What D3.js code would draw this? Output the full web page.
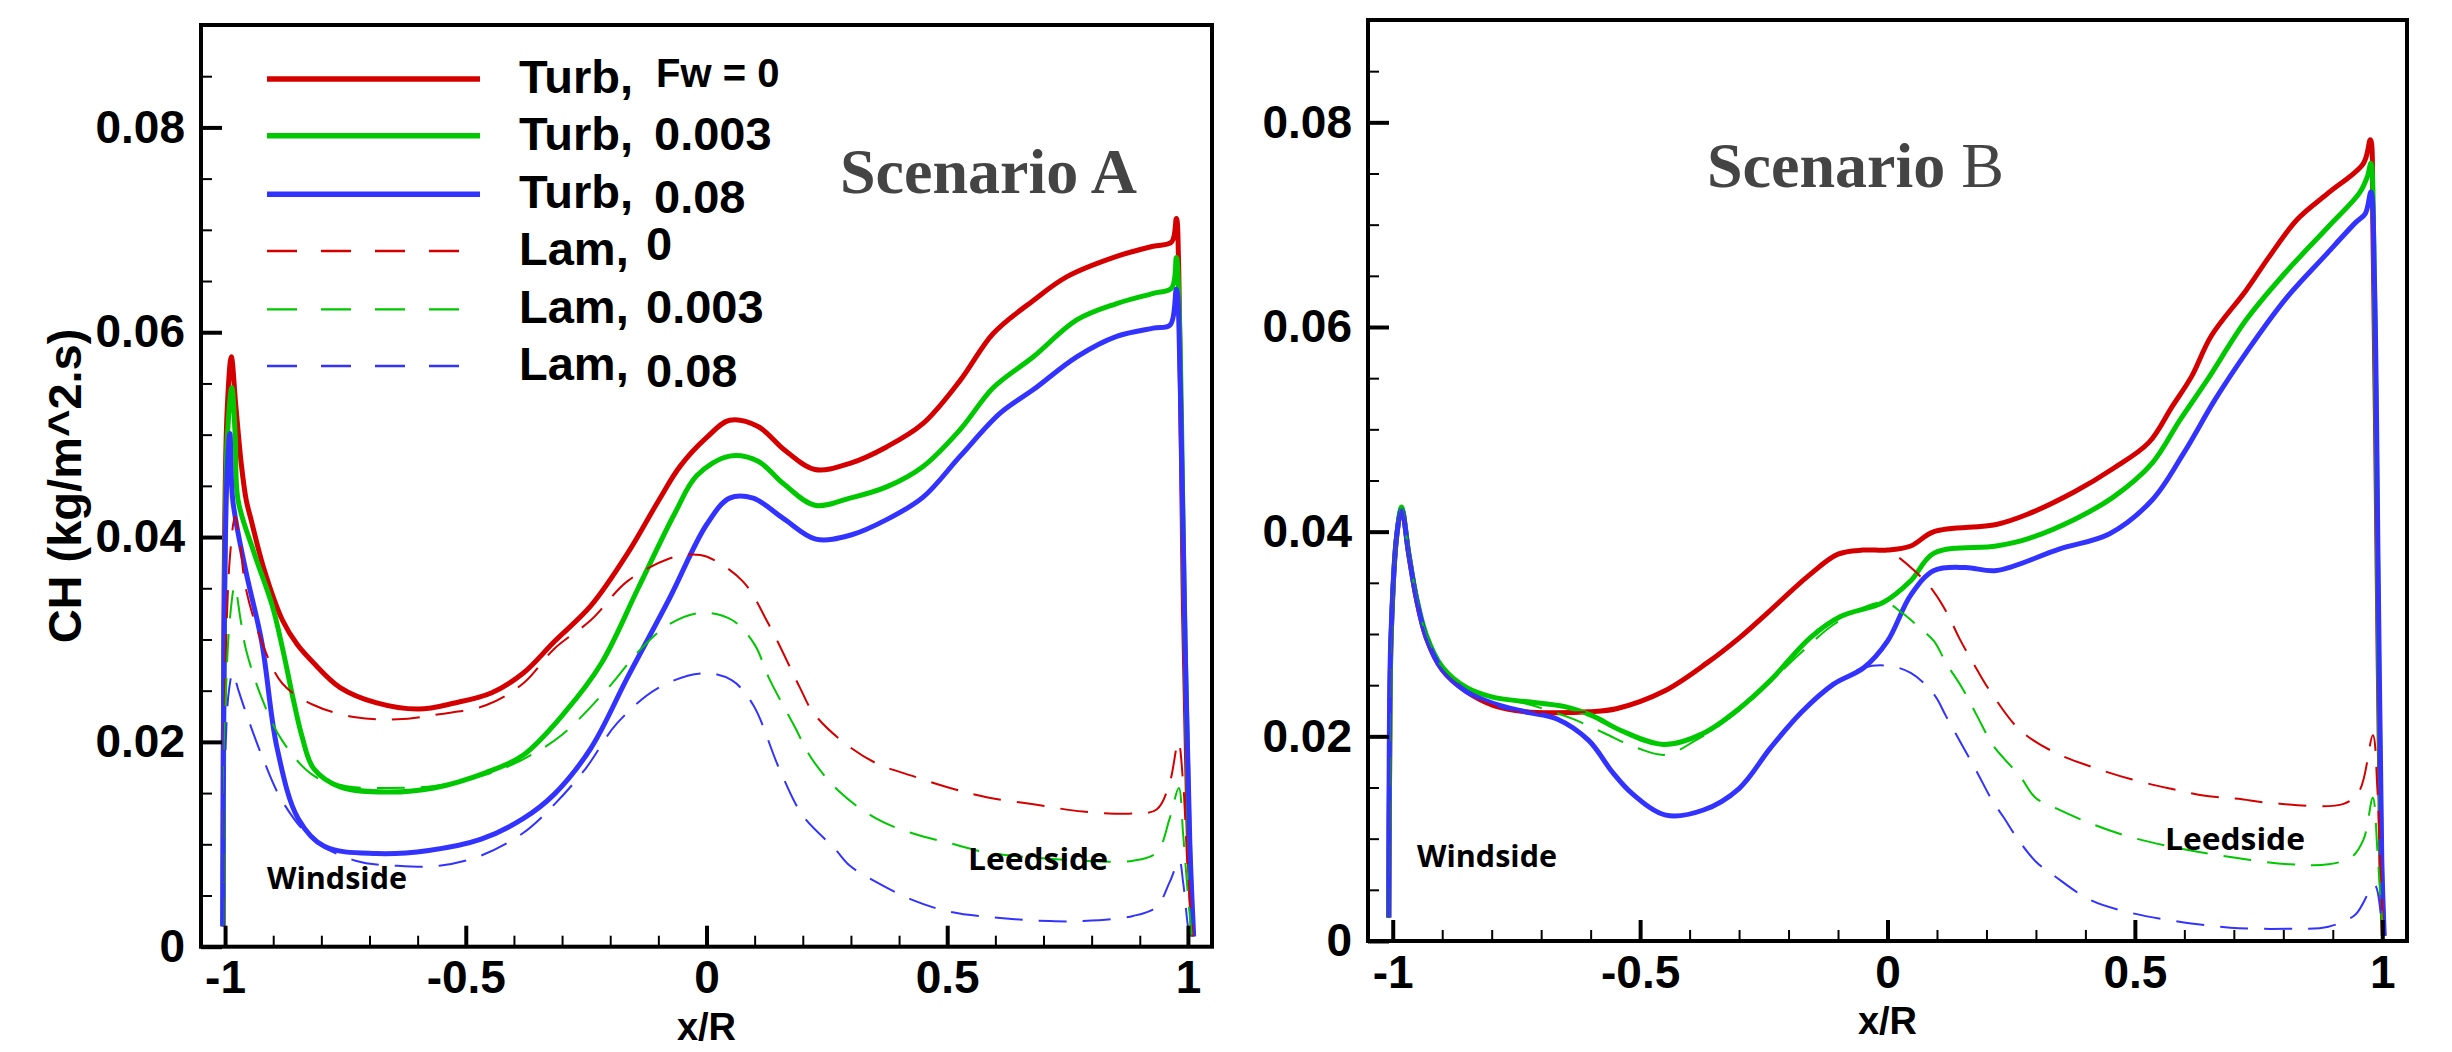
<!DOCTYPE html>
<html>
<head>
<meta charset="utf-8">
<script src="https://cdn.jsdelivr.net/npm/d3@7"></script>
<style>
  html, body { margin: 0; padding: 0; background: #fff; }
  svg { display: block; }
  .tick text { font-family: "Liberation Sans", Arial, sans-serif; font-weight: bold; font-size: 46px; fill: #000; }
</style>
</head>
<body>
<svg id="chart" width="2452" height="1052"></svg>
<script>
// ---- data: CH vs x/R ----

// Scenario A
var A_turb0 = [[-1.004,0.002],[-1.002,0.035],[-0.996,0.052],[-0.987,0.0576],[-0.978,0.053],[-0.966,0.047],[-0.956,0.0436],[-0.946,0.0417],[-0.92,0.037],[-0.881,0.0319],[-0.85,0.0295],[-0.816,0.0277],[-0.761,0.0253],[-0.685,0.0238],[-0.598,0.0232],[-0.523,0.0238],[-0.446,0.0248],[-0.381,0.0267],[-0.316,0.0298],[-0.24,0.0333],[-0.164,0.0384],[-0.099,0.0436],[-0.055,0.0469],[0.0,0.0497],[0.048,0.0514],[0.107,0.0508],[0.162,0.0485],[0.225,0.0466],[0.298,0.0472],[0.374,0.0488],[0.45,0.0511],[0.527,0.0553],[0.596,0.0599],[0.679,0.0631],[0.748,0.0654],[0.852,0.0674],[0.928,0.0684],[0.966,0.0688],[0.976,0.0711],[0.981,0.066],[0.99,0.035],[1.0,0.012],[1.01,0.001]];
var A_turb003 = [[-1.004,0.002],[-1.001,0.035],[-0.995,0.05],[-0.986,0.0546],[-0.979,0.05],[-0.973,0.0436],[-0.94,0.0385],[-0.902,0.0333],[-0.88,0.029],[-0.859,0.0243],[-0.84,0.0205],[-0.816,0.0174],[-0.761,0.0156],[-0.664,0.0151],[-0.566,0.0155],[-0.458,0.017],[-0.381,0.0187],[-0.294,0.0229],[-0.218,0.0277],[-0.142,0.035],[-0.066,0.0423],[-0.02,0.046],[0.048,0.0479],[0.107,0.0474],[0.16,0.0452],[0.225,0.0431],[0.298,0.0438],[0.374,0.0449],[0.45,0.0469],[0.527,0.0505],[0.596,0.0546],[0.679,0.0576],[0.769,0.0612],[0.852,0.0628],[0.928,0.0638],[0.966,0.0643],[0.976,0.0673],[0.982,0.062],[0.992,0.035],[1.002,0.012],[1.01,0.001]];
var A_turb008 = [[-1.005,0.002],[-1.002,0.03],[-0.996,0.046],[-0.99,0.0501],[-0.984,0.0436],[-0.957,0.0367],[-0.924,0.0298],[-0.892,0.0194],[-0.848,0.0125],[-0.794,0.0098],[-0.685,0.0091],[-0.577,0.0094],[-0.468,0.0105],[-0.381,0.0125],[-0.316,0.0149],[-0.24,0.0194],[-0.164,0.0263],[-0.077,0.034],[0.0,0.0412],[0.048,0.0438],[0.097,0.0438],[0.16,0.0418],[0.227,0.0398],[0.3,0.0402],[0.374,0.0417],[0.45,0.0439],[0.527,0.0479],[0.61,0.0521],[0.679,0.0544],[0.769,0.0576],[0.852,0.0596],[0.928,0.0604],[0.963,0.0607],[0.976,0.0642],[0.984,0.055],[0.994,0.03],[1.004,0.01],[1.012,0.001]];
var A_lam0 = [[-1.004,0.002],[-1.0,0.025],[-0.99,0.038],[-0.979,0.042],[-0.968,0.039],[-0.957,0.035],[-0.924,0.0298],[-0.881,0.0257],[-0.816,0.0236],[-0.729,0.0224],[-0.642,0.0222],[-0.555,0.0227],[-0.457,0.0236],[-0.381,0.0257],[-0.316,0.0291],[-0.24,0.0319],[-0.164,0.0357],[-0.077,0.0379],[-0.033,0.0383],[0.0,0.0381],[0.075,0.0357],[0.129,0.0315],[0.194,0.0253],[0.221,0.0229],[0.281,0.0201],[0.353,0.0179],[0.426,0.0167],[0.506,0.0155],[0.582,0.0146],[0.679,0.0139],[0.782,0.0132],[0.886,0.013],[0.935,0.0134],[0.962,0.016],[0.98,0.02],[0.99,0.016],[1.0,0.007],[1.01,0.001]];
var A_lam003 = [[-1.004,0.002],[-1.0,0.022],[-0.99,0.032],[-0.98,0.0352],[-0.968,0.032],[-0.957,0.0291],[-0.924,0.0243],[-0.881,0.0201],[-0.816,0.0167],[-0.751,0.0157],[-0.664,0.0155],[-0.566,0.0157],[-0.458,0.0168],[-0.381,0.0183],[-0.3,0.0207],[-0.2,0.0255],[-0.142,0.0288],[-0.077,0.0315],[-0.012,0.0326],[0.053,0.0319],[0.1,0.0295],[0.129,0.0263],[0.183,0.0215],[0.218,0.0184],[0.277,0.0151],[0.353,0.0125],[0.426,0.0111],[0.506,0.0101],[0.582,0.0092],[0.679,0.0087],[0.782,0.0084],[0.886,0.0084],[0.935,0.0092],[0.962,0.0125],[0.981,0.0155],[0.99,0.011],[1.0,0.005],[1.008,0.001]];
var A_lam008 = [[-1.005,0.002],[-1.0,0.018],[-0.992,0.025],[-0.984,0.0267],[-0.972,0.025],[-0.957,0.0229],[-0.924,0.0187],[-0.881,0.0142],[-0.816,0.0104],[-0.729,0.0084],[-0.642,0.0079],[-0.555,0.0079],[-0.468,0.0089],[-0.381,0.0111],[-0.316,0.0139],[-0.251,0.0174],[-0.186,0.0218],[-0.099,0.0253],[-0.006,0.0267],[0.053,0.026],[0.097,0.0236],[0.151,0.0174],[0.2,0.0128],[0.266,0.0096],[0.298,0.0079],[0.353,0.0063],[0.426,0.0046],[0.506,0.0034],[0.61,0.0028],[0.713,0.0025],[0.782,0.0025],[0.886,0.003],[0.935,0.0039],[0.962,0.0063],[0.982,0.0084],[0.99,0.0063],[1.0,0.002],[1.006,0.0005]];

// Scenario B
var B_turb0 = [[-1.008,0.0023],[-1.006,0.019],[-1.003,0.03],[-0.992,0.0396],[-0.982,0.0422],[-0.968,0.0379],[-0.952,0.0334],[-0.932,0.0296],[-0.9,0.0265],[-0.852,0.0244],[-0.796,0.023],[-0.732,0.0224],[-0.668,0.0223],[-0.604,0.0224],[-0.548,0.0227],[-0.452,0.0244],[-0.364,0.0272],[-0.3,0.0296],[-0.244,0.032],[-0.157,0.0358],[-0.1,0.0378],[-0.05,0.0382],[0.0,0.0382],[0.047,0.0386],[0.094,0.04],[0.22,0.0407],[0.283,0.0417],[0.378,0.0439],[0.457,0.0462],[0.528,0.0487],[0.575,0.0522],[0.615,0.0552],[0.654,0.0591],[0.725,0.0636],[0.772,0.0669],[0.828,0.0705],[0.891,0.0731],[0.962,0.076],[0.976,0.0783],[0.981,0.07],[0.99,0.035],[0.997,0.008],[1.002,0.0005]];
var B_turb003 = [[-1.008,0.0023],[-1.006,0.019],[-1.003,0.03],[-0.992,0.0396],[-0.982,0.0424],[-0.968,0.038],[-0.952,0.0336],[-0.932,0.0299],[-0.9,0.0268],[-0.852,0.0248],[-0.796,0.0238],[-0.732,0.0234],[-0.652,0.0229],[-0.596,0.022],[-0.54,0.0206],[-0.452,0.0192],[-0.372,0.0203],[-0.3,0.0227],[-0.236,0.0255],[-0.157,0.0296],[-0.095,0.0317],[-0.008,0.0331],[0.047,0.0352],[0.094,0.0379],[0.22,0.0386],[0.283,0.0393],[0.378,0.0412],[0.457,0.0434],[0.535,0.0467],[0.591,0.0509],[0.646,0.0548],[0.725,0.0607],[0.804,0.0653],[0.891,0.0698],[0.954,0.0731],[0.97,0.0747],[0.977,0.076],[0.983,0.068],[0.991,0.035],[0.998,0.008],[1.003,0.0005]];
var B_turb008 = [[-1.008,0.0023],[-1.007,0.0189],[-1.004,0.0293],[-0.992,0.0396],[-0.982,0.0422],[-0.968,0.0379],[-0.952,0.0334],[-0.932,0.0296],[-0.9,0.0265],[-0.852,0.0244],[-0.796,0.0232],[-0.732,0.0224],[-0.668,0.0217],[-0.604,0.0196],[-0.556,0.0165],[-0.516,0.0144],[-0.448,0.0123],[-0.372,0.0128],[-0.3,0.0149],[-0.236,0.0189],[-0.173,0.0224],[-0.109,0.0251],[-0.048,0.0267],[0.0,0.0293],[0.047,0.0338],[0.094,0.0362],[0.158,0.0365],[0.22,0.0362],[0.347,0.0383],[0.449,0.0398],[0.535,0.0431],[0.599,0.0477],[0.662,0.0529],[0.725,0.0575],[0.804,0.0627],[0.883,0.0669],[0.946,0.0702],[0.966,0.0711],[0.977,0.0732],[0.984,0.065],[0.992,0.035],[0.999,0.008],[1.004,0.0005]];
var B_lam0 = [[-1.008,0.0023],[-1.006,0.019],[-1.003,0.03],[-0.992,0.0396],[-0.982,0.0422],[-0.968,0.0379],[-0.952,0.0334],[-0.932,0.0296],[-0.9,0.0265],[-0.852,0.0244],[-0.796,0.023],[-0.732,0.0224],[-0.668,0.0223],[-0.604,0.0224],[-0.548,0.0227],[-0.452,0.0244],[-0.364,0.0272],[-0.3,0.0296],[-0.244,0.032],[-0.157,0.0358],[-0.1,0.0378],[-0.05,0.0382],[0.0,0.0381],[0.063,0.0358],[0.094,0.0341],[0.122,0.0319],[0.145,0.0296],[0.181,0.0265],[0.209,0.0243],[0.268,0.0206],[0.339,0.0184],[0.414,0.017],[0.493,0.0158],[0.571,0.0149],[0.642,0.0142],[0.709,0.0139],[0.773,0.0135],[0.922,0.0134],[0.954,0.0147],[0.981,0.0201],[0.99,0.015],[0.997,0.006],[1.003,0.0005]];
var B_lam003 = [[-1.008,0.0023],[-1.006,0.019],[-1.003,0.03],[-0.992,0.0396],[-0.982,0.0424],[-0.968,0.038],[-0.952,0.0336],[-0.932,0.0299],[-0.9,0.0268],[-0.852,0.0248],[-0.796,0.0238],[-0.732,0.0232],[-0.69,0.0226],[-0.636,0.0217],[-0.572,0.0203],[-0.508,0.0189],[-0.448,0.0182],[-0.388,0.0196],[-0.333,0.0213],[-0.269,0.0238],[-0.181,0.0279],[-0.1,0.0312],[-0.008,0.0331],[0.031,0.032],[0.063,0.0307],[0.094,0.0293],[0.118,0.0272],[0.15,0.0248],[0.181,0.022],[0.212,0.0192],[0.236,0.0178],[0.268,0.0161],[0.299,0.014],[0.339,0.013],[0.41,0.0115],[0.488,0.0102],[0.575,0.0092],[0.693,0.0082],[0.812,0.0075],[0.891,0.0075],[0.938,0.0082],[0.962,0.0099],[0.981,0.014],[0.99,0.009],[0.998,0.003],[1.003,0.0005]];
var B_lam008 = [[-1.008,0.0023],[-1.007,0.0189],[-1.004,0.0293],[-0.992,0.0396],[-0.982,0.0422],[-0.968,0.0379],[-0.952,0.0334],[-0.932,0.0296],[-0.9,0.0265],[-0.852,0.0244],[-0.796,0.0232],[-0.732,0.0224],[-0.668,0.0217],[-0.604,0.0196],[-0.556,0.0165],[-0.516,0.0144],[-0.448,0.0123],[-0.372,0.0128],[-0.3,0.0149],[-0.236,0.0189],[-0.173,0.0224],[-0.109,0.0251],[-0.048,0.0267],[0.0,0.0269],[0.047,0.0262],[0.094,0.0241],[0.118,0.022],[0.15,0.0192],[0.181,0.0165],[0.212,0.0137],[0.236,0.012],[0.26,0.0102],[0.299,0.0078],[0.339,0.0063],[0.41,0.004],[0.488,0.0028],[0.575,0.002],[0.693,0.0013],[0.812,0.0012],[0.891,0.0014],[0.946,0.0026],[0.984,0.0055],[0.998,0.0024],[1.004,0.0005]];

// ticks and labels
var xMajor = [-1, -0.5, 0, 0.5, 1];
var yMajor = [0, 0.02, 0.04, 0.06, 0.08];
var legendNames = ["Turb,", "Turb,", "Turb,", "Lam,", "Lam,", "Lam,"];
var legendValues = ["Fw = 0", "0.003", "0.08", "0", "0.003", "0.08"];
var scenarioTitles = ["Scenario A", "Scenario B"];

// ---- layout and style ----
var colors = ["#d40000", "#00c800", "#3333ff"];
var panels = [
  { left: 201, right: 1212, top: 25, bottom: 946.7, series: [A_turb0, A_turb003, A_turb008, A_lam0, A_lam003, A_lam008] },
  { left: 1368, right: 2407, top: 20, bottom: 941, series: [B_turb0, B_turb003, B_turb008, B_lam0, B_lam003, B_lam008] }
];
var sideNotes = [
  [{ t: "Windside", x: 267, y: 889 }, { t: "Leedside", x: 968, y: 870 }],
  [{ t: "Windside", x: 1417, y: 867 }, { t: "Leedside", x: 2165, y: 850 }]
];

var svg = d3.select("#chart");
svg.append("rect").attr("width", 2452).attr("height", 1052).attr("fill", "#fff");

var xMinor = d3.range(-10, 11).map(i => i / 10).filter(v => Math.abs(v * 2 - Math.round(v * 2)) > 1e-9);
var yMinor = d3.range(1, 18).filter(i => i % 4 !== 0).map(i => i * 0.005);

panels.forEach(function (p, pi) {
  var x = d3.scaleLinear().domain([-1.05, 1.05]).range([p.left, p.right]);
  var y = d3.scaleLinear().domain([0, 0.09]).range([p.bottom, p.top]);
  var g = svg.append("g");

  g.append("clipPath").attr("id", "clip" + pi)
    .append("rect").attr("x", p.left).attr("y", p.top)
    .attr("width", p.right - p.left).attr("height", p.bottom - p.top);

  var line = d3.line()
    .x(d => x(d[0]))
    .y(d => y(d[1]))
    .curve(d3.curveCatmullRom.alpha(0.5));

  var curves = g.append("g").attr("clip-path", "url(#clip" + pi + ")");
  p.series.forEach(function (s, i) {
    var lam = i >= 3;
    curves.append("path")
      .attr("d", line(s))
      .attr("fill", "none")
      .attr("stroke", colors[i % 3])
      .attr("stroke-width", lam ? 2 : 5)
      .attr("stroke-linejoin", "round")
      .attr("stroke-dasharray", lam ? "28,16" : null);
  });

  // minor ticks
  g.append("g").attr("transform", "translate(" + p.left + ",0)")
    .call(d3.axisLeft(y).tickValues(yMinor).tickSize(-11).tickSizeOuter(0).tickFormat(""))
    .call(a => a.select(".domain").remove())
    .selectAll("line").attr("stroke", "#000").attr("stroke-width", 2);
  g.append("g").attr("transform", "translate(0," + p.bottom + ")")
    .call(d3.axisBottom(x).tickValues(xMinor).tickSize(-11).tickSizeOuter(0).tickFormat(""))
    .call(a => a.select(".domain").remove())
    .selectAll("line").attr("stroke", "#000").attr("stroke-width", 2);

  // major ticks + labels
  var ya = g.append("g").attr("transform", "translate(" + p.left + ",0)")
    .call(d3.axisLeft(y).tickValues(yMajor).tickSize(-21).tickSizeOuter(0).tickPadding(16)
      .tickFormat(d => d === 0 ? "0" : d.toFixed(2)));
  ya.select(".domain").remove();
  ya.selectAll("line").attr("stroke", "#000").attr("stroke-width", 4);

  var xa = g.append("g").attr("transform", "translate(0," + p.bottom + ")")
    .call(d3.axisBottom(x).tickValues(xMajor).tickSize(-21).tickSizeOuter(0).tickPadding(14)
      .tickFormat(d => String(d)));
  xa.select(".domain").remove();
  xa.selectAll("line").attr("stroke", "#000").attr("stroke-width", 4);

  // frame
  g.append("rect")
    .attr("x", p.left).attr("y", p.top)
    .attr("width", p.right - p.left).attr("height", p.bottom - p.top)
    .attr("fill", "none").attr("stroke", "#000").attr("stroke-width", 4);

  // axis title
  g.append("text")
    .attr("x", x(0)).attr("y", p.bottom + 93)
    .attr("text-anchor", "middle")
    .style("font-family", "'Liberation Sans', Arial, sans-serif")
    .style("font-weight", "bold").style("font-size", "38px")
    .text("x/R");

  // side notes
  sideNotes[pi].forEach(function (n) {
    g.append("text").attr("x", n.x).attr("y", n.y)
      .attr("textLength", 140).attr("lengthAdjust", "spacingAndGlyphs")
      .style("font-family", "'Open Sans', 'Noto Sans', sans-serif")
      .style("font-weight", "bold").style("font-size", "31px")
      .text(n.t);
  });
});

// y axis title
svg.append("text")
  .attr("transform", "translate(81,486) rotate(-90)")
  .attr("text-anchor", "middle")
  .style("font-family", "'Liberation Sans', Arial, sans-serif")
  .style("font-weight", "bold").style("font-size", "47px")
  .text("CH (kg/m^2.s)");

// scenario titles
var titleStyle = function (t) {
  t.style("font-family", "'Liberation Serif', 'Times New Roman', serif")
    .style("font-size", "64px").attr("fill", "#444");
};
svg.append("text").attr("x", 840).attr("y", 193)
  .call(titleStyle).style("font-weight", "bold")
  .text(scenarioTitles[0]);
var tb = svg.append("text").attr("x", 1707).attr("y", 187).call(titleStyle);
var partsB = scenarioTitles[1].split(" ");
tb.append("tspan").style("font-weight", "bold").text(partsB[0] + " ");
tb.append("tspan").style("font-weight", "normal").text(partsB[1]);

// legend (Scenario A)
var legendRowY = [79, 135.7, 194.3, 251, 309.3, 366];
var legendValueX = [656, 654, 654, 646, 646, 646];
var legendValueDy = [-6, 0, 5, -5, 0, 7];
var leg = svg.append("g");
legendNames.forEach(function (name, i) {
  var lam = i >= 3;
  var ly = legendRowY[i];
  leg.append("line")
    .attr("x1", 267).attr("x2", lam ? 459 : 480)
    .attr("y1", ly).attr("y2", ly)
    .attr("stroke", colors[i % 3])
    .attr("stroke-width", lam ? 2.3 : 5.5)
    .attr("stroke-dasharray", lam ? "30,24" : null);
  leg.append("text")
    .attr("x", 519).attr("y", ly + 14)
    .style("font-family", "'Liberation Sans', Arial, sans-serif")
    .style("font-weight", "bold").style("font-size", "47px")
    .text(name);
  leg.append("text")
    .attr("x", legendValueX[i]).attr("y", ly + 14 + legendValueDy[i])
    .style("font-family", "'Liberation Sans', Arial, sans-serif")
    .style("font-weight", "bold").style("font-size", i === 0 ? "40px" : "47px")
    .text(legendValues[i]);
});
</script>
</body>
</html>
